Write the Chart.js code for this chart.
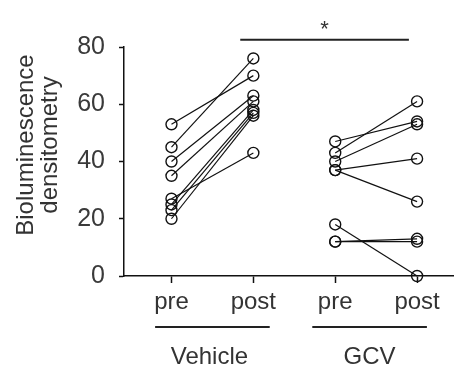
<!DOCTYPE html>
<html>
<head>
<meta charset="utf-8">
<script src="https://cdn.jsdelivr.net/npm/chart.js@4.4.1/dist/chart.umd.min.js"></script>
<style>
    html, body { margin: 0; padding: 0; background: #fff; }
    #chart { display: block; }
</style>
</head>
<body>
<canvas id="chart" width="460" height="371"></canvas>
<script>
// ==========================================
// DATOS
// ==========================================
const xPositions = [1, 2, 3, 4];
const xLabels = ['pre', 'post', 'pre', 'post'];
const groupNames = ['Vehicle', 'GCV'];
const yTicks = [0, 20, 40, 60, 80];
const yTitle = ['Bioluminescence', 'densitometry'];

// un valor por sujeto (pre -> post)
const vehiclePre  = [53, 45, 40, 35, 27, 25, 23, 20];
const vehiclePost = [70, 76, 63, 61, 43, 58, 57, 56];
const gcvPre      = [47, 43, 40, 37, 37, 18, 12, 12];
const gcvPost     = [54, 61, 53, 41, 26, 0, 13, 12];

const sigText = '*';

(function() {
    'use strict';

    const FONT = "'Liberation Sans', Arial, sans-serif";
    const TEXT = '#333';
    const INK = '#111';

    // ------------------------------------------
    // Construir datasets: una linea por sujeto
    // ------------------------------------------
    function pairSet(pre, post, xa, xb) {
        return pre.map(function(v, i) {
            return {
                data: [{ x: xa, y: v }, { x: xb, y: post[i] }],
                borderColor: INK,
                borderWidth: 1.2,
                pointRadius: 5.5,
                pointBorderWidth: 1.4,
                pointBorderColor: INK,
                pointBackgroundColor: 'rgba(0,0,0,0)',
                showLine: true,
                fill: false
            };
        });
    }

    const datasets = []
        .concat(pairSet(vehiclePre, vehiclePost, xPositions[0], xPositions[1]))
        .concat(pairSet(gcvPre, gcvPost, xPositions[2], xPositions[3]));

    // ------------------------------------------
    // Plugin: titulo Y, grupos, barra de significancia
    // ------------------------------------------
    const extras = {
        id: 'extras',
        afterDraw: function(chart) {
            const ctx = chart.ctx;
            const xs = chart.scales.x;
            const ys = chart.scales.y;
            ctx.save();

            // titulo del eje Y (dos lineas)
            ctx.translate(26, 145);
            ctx.rotate(-Math.PI / 2);
            ctx.fillStyle = TEXT;
            ctx.font = '24px ' + FONT;
            ctx.textAlign = 'center';
            ctx.textBaseline = 'middle';
            ctx.fillText(yTitle[0], 0, 0);
            ctx.fillText(yTitle[1], 0, 24);
            ctx.setTransform(1, 0, 0, 1, 0, 0);

            // grupos bajo el eje X
            const centers = [
                (xPositions[0] + xPositions[1]) / 2,
                (xPositions[2] + xPositions[3]) / 2 - 0.08
            ];
            ctx.strokeStyle = '#222';
            ctx.lineWidth = 2;
            ctx.font = '24px ' + FONT;
            ctx.fillStyle = TEXT;
            ctx.textAlign = 'center';
            ctx.textBaseline = 'middle';
            centers.forEach(function(c, i) {
                const a = xs.getPixelForValue(c - 0.7);
                const b = xs.getPixelForValue(c + 0.7);
                ctx.beginPath();
                ctx.moveTo(a, 327);
                ctx.lineTo(b, 327);
                ctx.stroke();
                ctx.fillText(groupNames[i], (a + b) / 2 - (i === 0 ? 3 : 0), 357);
            });

            // barra de significancia
            const y = ys.getPixelForValue(82.5);
            const x1 = xs.getPixelForValue(1.84);
            const x2 = xs.getPixelForValue(3.9);
            ctx.lineWidth = 2;
            ctx.beginPath();
            ctx.moveTo(x1, y);
            ctx.lineTo(x2, y);
            ctx.stroke();
            ctx.font = '22px ' + FONT;
            ctx.fillText(sigText, (x1 + x2) / 2, y - 10);

            ctx.restore();
        }
    };

    new Chart(document.getElementById('chart'), {
        type: 'scatter',
        data: { datasets: datasets },
        plugins: [extras],
        options: {
            responsive: false,
            devicePixelRatio: 1,
            animation: false,
            clip: false,
            layout: { padding: { top: 47, right: 0, bottom: 53, left: 0 } },
            plugins: {
                legend: { display: false },
                tooltip: { enabled: false }
            },
            scales: {
                x: {
                    type: 'linear',
                    min: 0.42,
                    max: 4.44,
                    afterFit: function(scale) { scale.height = 42; },
                    afterBuildTicks: function(scale) {
                        scale.ticks = xPositions.map(function(v) { return { value: v }; });
                    },
                    ticks: {
                        autoSkip: false,
                        maxRotation: 0,
                        padding: 5,
                        color: TEXT,
                        font: { family: FONT, size: 24 },
                        callback: function(v) {
                            const i = xPositions.indexOf(v);
                            return i >= 0 ? xLabels[i] : '';
                        }
                    },
                    grid: {
                        drawOnChartArea: false,
                        drawTicks: true,
                        tickLength: 7,
                        tickWidth: 1.5,
                        tickColor: INK
                    },
                    border: { display: true, color: INK, width: 1.5 }
                },
                y: {
                    min: 0,
                    max: 80,
                    afterFit: function(scale) { scale.width = 124; },
                    afterBuildTicks: function(scale) {
                        scale.ticks = yTicks.map(function(v) { return { value: v }; });
                    },
                    ticks: {
                        padding: 14,
                        color: '#3a3a3a',
                        font: { family: FONT, size: 25 }
                    },
                    grid: {
                        drawOnChartArea: false,
                        drawTicks: true,
                        tickLength: 5,
                        tickWidth: 1.5,
                        tickColor: INK
                    },
                    border: { display: true, color: INK, width: 1.5 }
                }
            }
        }
    });
})();
</script>
</body>
</html>
